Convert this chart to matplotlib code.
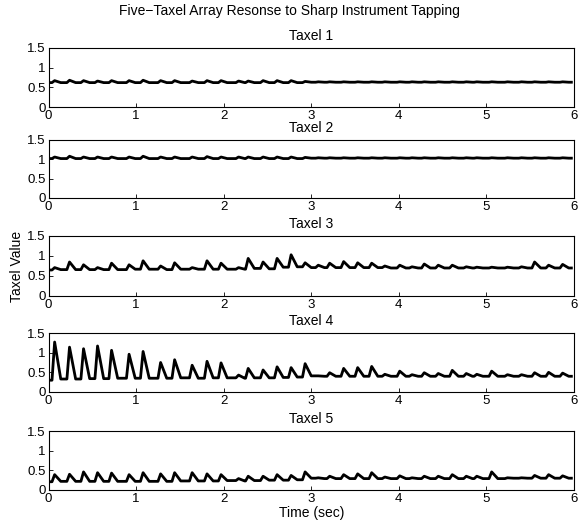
import numpy as np
import matplotlib
matplotlib.use('Agg')
import matplotlib.pyplot as plt

# tap times (sec), shared by all five taxels
peak_t = [0.07, 0.24, 0.40, 0.56, 0.72, 0.92, 1.08, 1.28, 1.44, 1.64, 1.81, 1.97,
          2.17, 2.28, 2.45, 2.61, 2.77, 2.93, 3.08, 3.21, 3.37, 3.53, 3.69, 3.84,
          4.01, 4.15, 4.29, 4.45, 4.61, 4.77, 4.89, 5.06, 5.24, 5.40, 5.55, 5.71, 5.87]

# peak value at each tap, and the resting value the trace falls back to
t1_start = 0.62
t1_peak = [0.67, 0.68, 0.67, 0.66, 0.67, 0.67, 0.68, 0.67, 0.67, 0.66, 0.67, 0.67,
           0.66, 0.66, 0.67, 0.67, 0.67, 0.65, 0.64, 0.64, 0.64, 0.64, 0.64, 0.64,
           0.64, 0.64, 0.64, 0.64, 0.64, 0.64, 0.64, 0.64, 0.64, 0.64, 0.64, 0.64, 0.64]
t1_base = [0.62, 0.62, 0.62, 0.62, 0.62, 0.62, 0.62, 0.62, 0.62, 0.62, 0.62, 0.62,
           0.62, 0.62, 0.62, 0.62, 0.62, 0.63, 0.63, 0.63, 0.63, 0.63, 0.63, 0.63,
           0.63, 0.63, 0.63, 0.63, 0.63, 0.63, 0.63, 0.63, 0.63, 0.63, 0.63, 0.63, 0.63]

t2_start = 1.02
t2_peak = [1.06, 1.08, 1.06, 1.06, 1.06, 1.06, 1.08, 1.06, 1.06, 1.06, 1.07, 1.06,
           1.06, 1.06, 1.06, 1.06, 1.06, 1.05, 1.04, 1.04, 1.04, 1.04, 1.04, 1.04,
           1.04, 1.04, 1.04, 1.04, 1.04, 1.04, 1.04, 1.04, 1.04, 1.04, 1.04, 1.04, 1.04]
t2_base = [1.02, 1.02, 1.02, 1.02, 1.02, 1.02, 1.02, 1.02, 1.02, 1.02, 1.02, 1.02,
           1.02, 1.02, 1.02, 1.02, 1.02, 1.03, 1.03, 1.03, 1.03, 1.03, 1.03, 1.03,
           1.03, 1.03, 1.03, 1.03, 1.03, 1.03, 1.03, 1.03, 1.03, 1.03, 1.03, 1.03, 1.03]

t3_start = 0.65
t3_peak = [0.71, 0.85, 0.78, 0.71, 0.82, 0.78, 0.88, 0.75, 0.83, 0.71, 0.88, 0.82,
           0.71, 0.94, 0.85, 0.94, 1.03, 0.83, 0.77, 0.82, 0.86, 0.83, 0.82, 0.75,
           0.77, 0.73, 0.80, 0.77, 0.77, 0.73, 0.72, 0.72, 0.72, 0.73, 0.85, 0.77, 0.79]
t3_base = [0.66, 0.66, 0.66, 0.66, 0.66, 0.67, 0.67, 0.66, 0.67, 0.67, 0.67, 0.67,
           0.67, 0.69, 0.68, 0.72, 0.73, 0.71, 0.71, 0.71, 0.71, 0.71, 0.71, 0.70,
           0.70, 0.70, 0.70, 0.70, 0.70, 0.70, 0.70, 0.70, 0.70, 0.70, 0.70, 0.70, 0.70]

t4_start = 0.30
t4_peak = [1.27, 1.14, 1.10, 1.17, 1.06, 0.96, 1.03, 0.75, 0.82, 0.68, 0.78, 0.74,
           0.43, 0.60, 0.56, 0.64, 0.62, 0.72, 0.41, 0.49, 0.60, 0.62, 0.65, 0.45,
           0.53, 0.44, 0.49, 0.47, 0.55, 0.47, 0.45, 0.53, 0.44, 0.44, 0.49, 0.50, 0.48]
t4_base = [0.33, 0.33, 0.34, 0.34, 0.35, 0.35, 0.35, 0.35, 0.36, 0.35, 0.36, 0.36,
           0.35, 0.36, 0.36, 0.37, 0.38, 0.41, 0.40, 0.40, 0.40, 0.40, 0.40, 0.40,
           0.40, 0.40, 0.40, 0.40, 0.40, 0.40, 0.40, 0.40, 0.40, 0.40, 0.40, 0.40, 0.40]

t5_start = 0.21
t5_peak = [0.39, 0.40, 0.46, 0.44, 0.43, 0.39, 0.44, 0.41, 0.44, 0.44, 0.41, 0.39,
           0.29, 0.35, 0.35, 0.39, 0.37, 0.46, 0.31, 0.35, 0.39, 0.41, 0.44, 0.33,
           0.36, 0.31, 0.35, 0.35, 0.39, 0.35, 0.35, 0.46, 0.31, 0.31, 0.37, 0.39, 0.36]
t5_base = [0.22, 0.22, 0.22, 0.22, 0.22, 0.22, 0.22, 0.22, 0.23, 0.23, 0.23, 0.24,
           0.23, 0.24, 0.25, 0.25, 0.26, 0.30, 0.29, 0.29, 0.29, 0.29, 0.29, 0.29,
           0.29, 0.29, 0.29, 0.29, 0.29, 0.29, 0.29, 0.29, 0.30, 0.30, 0.30, 0.30, 0.30]

taxels = [(t1_start, t1_peak, t1_base), (t2_start, t2_peak, t2_base),
          (t3_start, t3_peak, t3_base), (t4_start, t4_peak, t4_base),
          (t5_start, t5_peak, t5_base)]

T_END = 5.97
RISE = 0.03
FALL = 0.07


def trace(start, peaks, bases):
    tt = [0.0]
    vv = [start]
    for t, p, b in zip(peak_t, peaks, bases):
        tt += [t - RISE, t, t + FALL]
        vv += [vv[-1], p, b]
    tt.append(T_END)
    vv.append(vv[-1])
    return tt, vv


plt.rcParams['font.family'] = ['Liberation Sans', 'DejaVu Sans']
plt.rcParams['font.size'] = 9.5

fig = plt.figure(figsize=(5.79, 5.28), dpi=100)
W, H = 579.0, 528.0

# box top / bottom of each panel in pixels from the top of the figure
boxes = [(48, 107), (140, 198), (236, 296), (333, 392), (431, 490)]
left, right = 48.5, 574.0

axes = []
for i, ((top, bot), data) in enumerate(zip(boxes, taxels)):
    ax = fig.add_axes([left / W, 1 - bot / H, (right - left) / W, (bot - top) / H])
    tt, vv = trace(*data)
    ax.plot(tt, vv, color='k', lw=2.0, solid_joinstyle='round')
    ax.set_xlim(0, 6)
    ax.set_ylim(0, 1.5)
    ax.set_xticks(range(7))
    ax.set_yticks([0, 0.5, 1, 1.5])
    ax.set_yticklabels(['0', '0.5', '1', '1.5'])
    ax.tick_params(direction='in', length=3, width=0.6, pad=2,
                   top=False, right=False)
    for s in ax.spines.values():
        s.set_linewidth(0.8)
    ax.set_title('Taxel %d' % (i + 1), fontsize=10, pad=6)
    axes.append(ax)

fig.suptitle('Five\u2212Taxel Array Resonse to Sharp Instrument Tapping',
             fontsize=10, y=1 - 11 / H, va='center')
axes[2].set_ylabel('Taxel Value', fontsize=10, labelpad=2)
axes[4].set_xlabel('Time (sec)', fontsize=10, labelpad=1)

fig.savefig('out.png', dpi=100, facecolor='white')
